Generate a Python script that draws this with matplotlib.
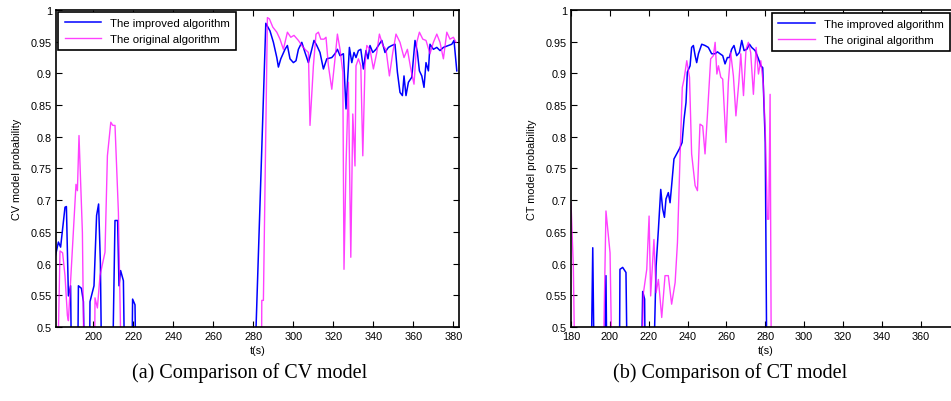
import numpy as np
import matplotlib.pyplot as plt
from matplotlib.ticker import FormatStrFormatter

# CV model probability, left panel (values below 0.5 are off the axis)
cv_imp_t = [181, 182.5, 183.6, 185.8, 186.5, 187.5, 188.6, 189.5, 191.8, 192.5, 194.0, 195.0,
            196.3, 197.7, 198.3, 200.3, 201.6, 202.6, 203.5, 204.6, 208.9, 210.8, 212.1, 212.8,
            213.6, 215.0, 216.2, 218.8, 219.6, 220.8, 221.8, 279.3, 286.2, 288.3, 290.0, 291.7,
            292.5, 293.7, 295.8, 297.0, 298.3, 300.0, 301.3, 302.5, 304.2, 305.8, 307.5, 309.2,
            310.3, 311.7, 313.3, 315.0, 316.7, 319.2, 320.8, 322.0, 323.3, 325.0, 326.3, 328.0,
            329.2, 330.3, 331.3, 332.5, 333.7, 335.0, 336.3, 337.3, 338.3, 339.7, 341.3, 342.5,
            344.2, 345.8, 347.5, 349.2, 350.8, 352.0, 353.3, 354.5, 355.3, 356.3, 357.5, 359.2,
            360.8, 362.0, 363.0, 364.2, 365.3, 366.3, 367.5, 368.3, 370.0, 371.7, 373.3, 375.0,
            377.5, 379.2, 380.3, 381.7]
cv_imp_p = [0.612, 0.634, 0.626, 0.689, 0.690, 0.549, 0.565, 0.30, 0.30, 0.565, 0.561, 0.54,
            0.30, 0.30, 0.540, 0.565, 0.676, 0.694, 0.60, 0.30, 0.30, 0.668, 0.668, 0.565,
            0.589, 0.573, 0.30, 0.30, 0.544, 0.535, 0.30, 0.30, 0.979, 0.967, 0.949, 0.925,
            0.910, 0.923, 0.938, 0.944, 0.923, 0.917, 0.920, 0.938, 0.949, 0.933, 0.917, 0.938,
            0.952, 0.944, 0.933, 0.907, 0.923, 0.925, 0.931, 0.938, 0.928, 0.931, 0.844, 0.941,
            0.917, 0.933, 0.925, 0.936, 0.938, 0.907, 0.936, 0.923, 0.944, 0.933, 0.938, 0.944,
            0.952, 0.933, 0.941, 0.944, 0.946, 0.902, 0.870, 0.865, 0.896, 0.865, 0.886, 0.894,
            0.952, 0.933, 0.904, 0.896, 0.878, 0.917, 0.904, 0.946, 0.938, 0.941, 0.936, 0.941,
            0.944, 0.946, 0.952, 0.904]

cv_org_t = [181.3, 183.3, 184.6, 185.8, 187.0, 187.5, 191.3, 192.0, 192.8, 194.5, 195.8, 200.3,
            200.8, 202.0, 203.3, 205.8, 207.0, 208.7, 209.7, 210.8, 212.5, 214.7, 283.8, 284.2,
            285.0, 287.0, 288.0, 289.7, 291.7, 293.3, 295.0, 297.0, 298.7, 300.3, 302.5, 304.2,
            305.8, 307.5, 308.3, 310.0, 311.3, 312.5, 313.7, 315.3, 316.3, 317.5, 319.2, 320.8,
            322.0, 323.3, 324.7, 325.3, 326.3, 327.5, 328.7, 329.7, 330.8, 331.3, 332.5, 333.7,
            334.7, 335.8, 336.7, 338.3, 340.0, 341.7, 343.0, 344.7, 346.3, 348.0, 349.7, 351.3,
            353.3, 355.3, 357.0, 358.7, 360.3, 361.7, 363.0, 364.7, 366.3, 368.3, 370.0, 371.7,
            373.3, 375.0, 376.7, 378.3, 380.0, 381.3]
cv_org_p = [0.30, 0.620, 0.617, 0.581, 0.518, 0.510, 0.725, 0.715, 0.802, 0.649, 0.30, 0.30,
            0.546, 0.530, 0.581, 0.618, 0.770, 0.823, 0.818, 0.818, 0.681, 0.30, 0.30, 0.542,
            0.542, 0.988, 0.986, 0.973, 0.965, 0.954, 0.938, 0.965, 0.957, 0.960, 0.952, 0.944,
            0.938, 0.933, 0.818, 0.912, 0.962, 0.965, 0.954, 0.954, 0.957, 0.912, 0.875, 0.923,
            0.962, 0.938, 0.902, 0.591, 0.754, 0.886, 0.610, 0.836, 0.754, 0.912, 0.923, 0.912,
            0.770, 0.912, 0.944, 0.938, 0.907, 0.933, 0.962, 0.944, 0.938, 0.896, 0.933, 0.962,
            0.949, 0.925, 0.938, 0.907, 0.883, 0.949, 0.965, 0.954, 0.952, 0.931, 0.949, 0.962,
            0.949, 0.923, 0.965, 0.954, 0.957, 0.949]

# CT model probability, right panel
ct_imp_t = [180, 189.8, 191.2, 192.4, 196.6, 198.0, 198.9, 204.7, 205.2, 206.6, 208.3, 209.5,
            215.5, 216.9, 217.9, 218.6, 221.5, 223.8, 225.0, 226.2, 227.2, 228.1, 228.9, 230.1,
            231.0, 231.8, 233.0, 234.4, 235.8, 237.2, 238.2, 239.2, 239.9, 241.3, 242.1, 243.0,
            243.9, 244.7, 245.6, 247.3, 249.0, 250.7, 252.4, 254.2, 255.4, 256.7, 258.1, 259.3,
            260.5, 261.5, 262.7, 263.9, 265.3, 266.7, 267.9, 269.1, 270.5, 271.9, 273.0, 274.8,
            276.5, 277.7, 278.7, 280.0, 281.1, 380]
ct_imp_p = [0.30, 0.30, 0.625, 0.30, 0.30, 0.581, 0.30, 0.30, 0.591, 0.594, 0.586, 0.30,
            0.30, 0.556, 0.544, 0.30, 0.30, 0.596, 0.654, 0.717, 0.686, 0.673, 0.702, 0.712,
            0.696, 0.723, 0.765, 0.773, 0.781, 0.791, 0.828, 0.854, 0.902, 0.912, 0.941, 0.944,
            0.928, 0.917, 0.931, 0.946, 0.944, 0.941, 0.931, 0.931, 0.934, 0.931, 0.928, 0.915,
            0.925, 0.925, 0.938, 0.944, 0.928, 0.933, 0.952, 0.936, 0.938, 0.946, 0.941, 0.936,
            0.923, 0.912, 0.909, 0.791, 0.30, 0.30]

ct_org_t = [180.0, 181.2, 182.6, 195.8, 198.0, 200.1, 201.8, 215.5, 217.3, 219.0, 220.2, 221.0,
            222.7, 223.8, 225.0, 226.7, 228.4, 230.1, 231.8, 233.6, 234.8, 236.1, 237.3, 238.2,
            239.6, 241.0, 242.1, 243.9, 245.1, 246.4, 247.8, 249.0, 250.2, 251.9, 253.3, 254.2,
            255.1, 255.9, 257.1, 258.1, 259.8, 261.0, 262.2, 263.6, 264.9, 266.4, 267.4, 268.8,
            270.1, 271.3, 272.5, 273.9, 275.3, 276.5, 277.7, 279.0, 280.0, 281.1, 281.8, 282.5,
            283.3, 380]
ct_org_p = [0.696, 0.596, 0.30, 0.30, 0.683, 0.617, 0.30, 0.30, 0.554, 0.591, 0.675, 0.549,
            0.638, 0.554, 0.575, 0.515, 0.581, 0.581, 0.536, 0.570, 0.633, 0.765, 0.878, 0.891,
            0.920, 0.894, 0.773, 0.723, 0.715, 0.820, 0.817, 0.773, 0.833, 0.923, 0.928, 0.949,
            0.899, 0.912, 0.894, 0.891, 0.791, 0.886, 0.933, 0.896, 0.833, 0.886, 0.931, 0.865,
            0.938, 0.949, 0.933, 0.867, 0.941, 0.899, 0.920, 0.883, 0.810, 0.670, 0.670, 0.867,
            0.30, 0.30]

labels = ['The improved algorithm', 'The original algorithm']
tick_font = 'Liberation Sans'

fig = plt.figure(figsize=(9.51, 4.02), dpi=100)
ax1 = fig.add_axes([56 / 951, 1 - 328 / 402, 403 / 951, 317 / 402])
ax2 = fig.add_axes([571 / 951, 1 - 328 / 402, 388.5 / 951, 317 / 402])


def style_axis(ax, xticks, xlim, ylabel, leg_loc, leg_anchor):
    ax.set_xticks(xticks)
    ax.set_yticks(np.arange(0.5, 1.001, 0.05))
    ax.set_xlim(*xlim)
    ax.set_ylim(0.5, 1.0)
    ax.yaxis.set_major_formatter(FormatStrFormatter('%g'))
    ax.tick_params(direction='in', top=True, right=True, length=4, width=0.8,
                   labelsize=7.8, pad=3)
    for lab in ax.get_xticklabels() + ax.get_yticklabels():
        lab.set_fontfamily(tick_font)
    for s in ax.spines.values():
        s.set_linewidth(1.2)
    ax.set_xlabel('t(s)', fontsize=7.8, family=tick_font, labelpad=3)
    ax.set_ylabel(ylabel, fontsize=7.8, family=tick_font, labelpad=6)
    leg = ax.legend(labels, loc=leg_loc, bbox_to_anchor=leg_anchor, borderaxespad=0,
                    fancybox=False, framealpha=1, edgecolor='black', handlelength=3.2,
                    prop={'family': tick_font, 'size': 8.2}, borderpad=0.55, labelspacing=0.5)
    leg.get_frame().set_linewidth(1.2)


ax1.plot(cv_imp_t, cv_imp_p, color='#0000ff', lw=1.1)
ax1.plot(cv_org_t, cv_org_p, color='#ff00ff', lw=1.0, alpha=0.75)
style_axis(ax1, np.arange(200, 381, 20), (181.3, 382.8), 'CV model probability',
           'upper left', (0.006, 0.995))

ax2.plot(ct_imp_t, ct_imp_p, color='#0000ff', lw=1.1)
ax2.plot(ct_org_t, ct_org_p, color='#ff00ff', lw=1.0, alpha=0.75)
style_axis(ax2, np.arange(180, 361, 20), (180, 380), 'CT model probability',
           'upper right', (0.976, 0.99))

fig.text(250 / 951, 1 - 373 / 402, '(a) Comparison of CV model', ha='center', va='center',
         family='Liberation Serif', fontsize=14.5)
fig.text(730 / 951, 1 - 373 / 402, '(b) Comparison of CT model', ha='center', va='center',
         family='Liberation Serif', fontsize=14.5)

fig.savefig('out.png', dpi=100)
